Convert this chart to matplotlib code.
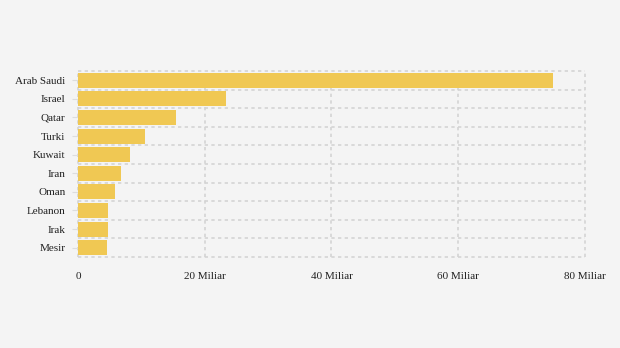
import numpy as np
import matplotlib
matplotlib.use('Agg')
import matplotlib.pyplot as plt

# data (billions)
countries = ['Arab Saudi', 'Israel', 'Qatar', 'Turki', 'Kuwait',
             'Iran', 'Oman', 'Lebanon', 'Irak', 'Mesir']
values = [75.0, 23.4, 15.5, 10.6, 8.2, 6.8, 5.8, 4.7, 4.7, 4.6]
xticks = [0, 20, 40, 60, 80]
xlabels = ['0', '20 Miliar', '40 Miliar', '60 Miliar', '80 Miliar']

plt.rcParams['font.family'] = ['Liberation Serif', 'DejaVu Serif']

bg = '#f4f4f4'
fig = plt.figure(figsize=(6.2, 3.48), dpi=100, facecolor=bg)
ax = fig.add_axes([0.1258, 0.2615, 0.8177, 0.5345], facecolor=bg)

y = np.arange(len(countries))
ax.barh(y, values, height=0.8, color='#f0c853', zorder=2)

ax.set_xlim(0, 80)
ax.set_ylim(len(countries) - 0.5, -0.5)
ax.set_xticks(xticks)
ax.set_xticklabels(xlabels, fontsize=8, color='#222222')
ax.set_yticks(y)
ax.set_yticklabels(countries, fontsize=8, color='#222222')
ax.set_yticks(np.arange(len(countries) + 1) - 0.5, minor=True)

grid_style = dict(color='#d4d4d4', linestyle=(0, (2, 2)), linewidth=1.2)
ax.grid(axis='x', which='major', zorder=0, **grid_style)
ax.grid(axis='y', which='minor', zorder=0, **grid_style)
lines = [t.gridline for t in ax.xaxis.get_major_ticks()]
lines += [t.gridline for t in ax.yaxis.get_minor_ticks()]
for ln in lines:
    ln.set_clip_on(False)
ax.tick_params(axis='y', which='minor', length=0)
ax.tick_params(axis='y', which='major', length=4, color='#dddddd', pad=5)
ax.tick_params(axis='x', length=0, pad=11)

for s in ax.spines.values():
    s.set_visible(False)

fig.savefig('out.png', dpi=100, facecolor=bg)
